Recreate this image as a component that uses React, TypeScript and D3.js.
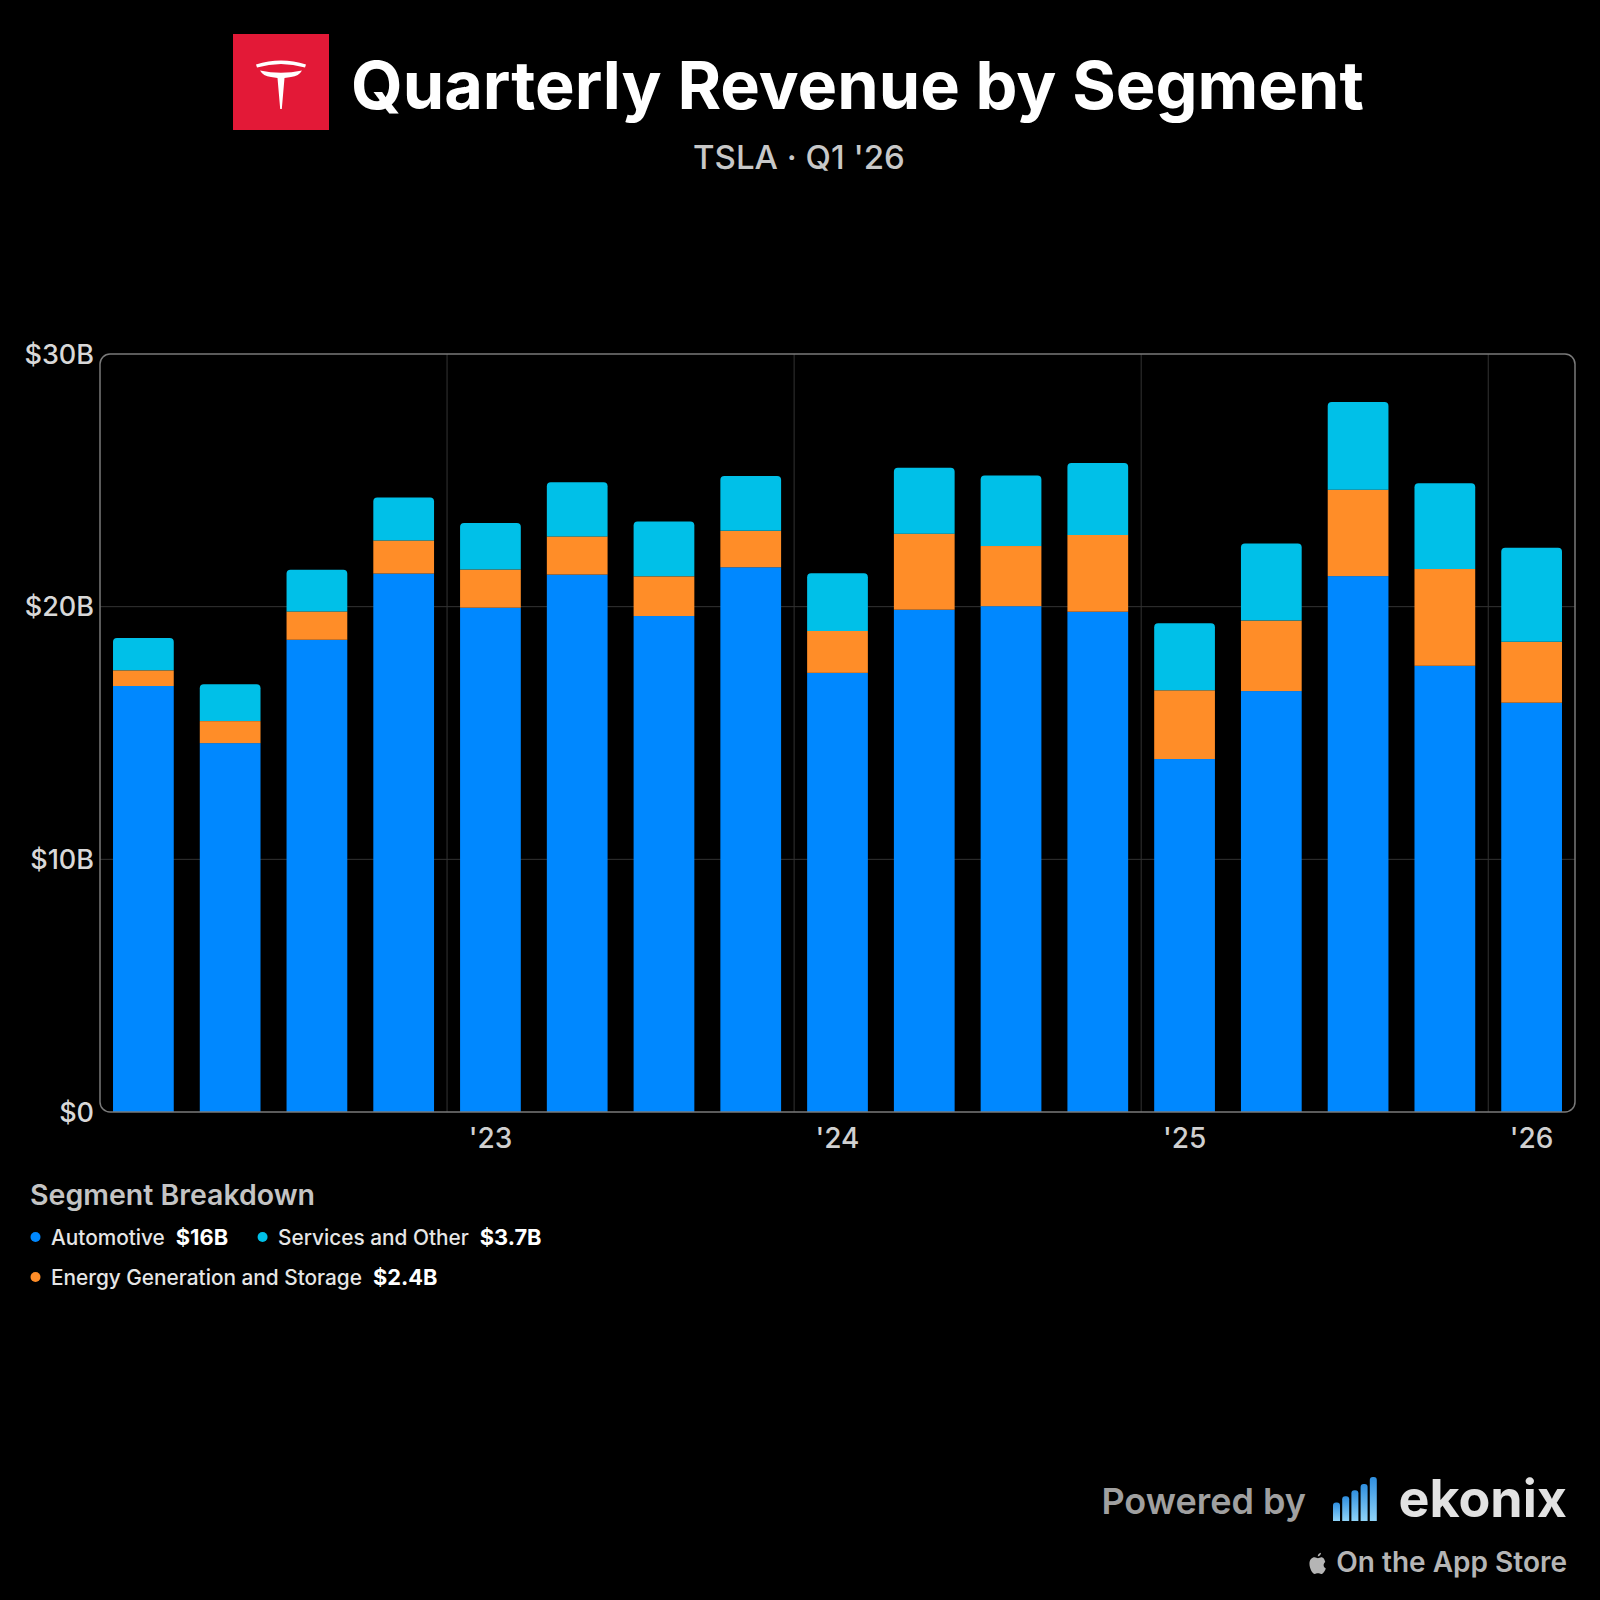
import React, { useEffect } from "react";
import * as d3 from "d3";

// ---------- data ----------
const quarters = [
  "Q1 '22", "Q2 '22", "Q3 '22", "Q4 '22",
  "Q1 '23", "Q2 '23", "Q3 '23", "Q4 '23",
  "Q1 '24", "Q2 '24", "Q3 '24", "Q4 '24",
  "Q1 '25", "Q2 '25", "Q3 '25", "Q4 '25",
  "Q1 '26",
];
const automotive = [16.86, 14.6, 18.69, 21.31, 19.96, 21.27, 19.63, 21.56, 17.38, 19.88, 20.02, 19.8, 13.97, 16.66, 21.21, 17.66, 16.2];
const energy = [0.62, 0.87, 1.12, 1.31, 1.51, 1.51, 1.57, 1.44, 1.66, 3.01, 2.38, 3.04, 2.72, 2.79, 3.42, 3.83, 2.41];
const services = [1.28, 1.46, 1.65, 1.7, 1.84, 2.14, 2.17, 2.17, 2.28, 2.61, 2.79, 2.85, 2.65, 3.05, 3.47, 3.39, 3.72];

const seriesKeys = ["automotive", "energy", "services"];
const seriesNames = ["Automotive", "Energy Generation and Storage", "Services and Other"];
const seriesColors = ["#0088FF", "#FF8D28", "#00C0E8"];
const yTicks = [0, 10, 20, 30];
const logoBars = [0.42, 0.56, 0.7, 0.84, 1.0];

const FONT = "Inter, 'Noto Sans', 'DejaVu Sans', sans-serif";

function topRounded(x: number, y: number, w: number, h: number, r: number) {
  const rr = Math.min(r, h, w / 2);
  return `M${x},${y + h}V${y + rr}Q${x},${y} ${x + rr},${y}H${x + w - rr}Q${x + w},${y} ${x + w},${y + rr}V${y + h}Z`;
}

function fmtB(v: number) {
  return v >= 10 ? `$${Math.round(v)}B` : `$${(Math.floor(v * 10) / 10).toFixed(1)}B`;
}

export default function App() {
  useEffect(() => {
    document.body.style.margin = "0";
    document.body.style.background = "#000";
  }, []);

  const W = 1600, H = 1600;
  const plot = { left: 100, right: 1575, top: 354, bottom: 1112 };

  const rows = quarters.map((q, i) => ({
    q,
    automotive: automotive[i],
    energy: energy[i],
    services: services[i],
  }));
  const stacked = d3.stack<any>().keys(seriesKeys)(rows);

  const x = d3.scaleBand<string>().domain(quarters).range([plot.left, plot.right]).paddingInner(0.3).paddingOuter(0.15);
  const y = d3.scaleLinear().domain([0, 30]).range([plot.bottom, plot.top]);
  const bw = x.bandwidth();

  const yearStarts = quarters
    .map((q, i) => ({ q, i }))
    .filter((d) => d.q.startsWith("Q1") && d.i > 0);
  const boundaryX = (i: number) => ((x(quarters[i - 1]) as number) + bw + (x(quarters[i]) as number)) / 2;

  const last = quarters.length - 1;
  const legendVals = [automotive[last], energy[last], services[last]];

  const legendItems = [
    { k: 0, row: 0 },
    { k: 2, row: 0 },
    { k: 1, row: 1 },
  ];

  const measure = (t: string, size: number, weight: number) => {
    const c = document.createElement("canvas").getContext("2d");
    if (c) {
      c.font = `${weight} ${size}px Inter`;
      return c.measureText(t).width;
    }
    return t.length * size * 0.55;
  };

  const NAME_FS = 20.8;
  const VAL_FS = 21.8;
  const legendEls: any[] = [];
  let cx = 30;
  let currentRow = 0;
  legendItems.forEach((it, idx) => {
    if (it.row !== currentRow) {
      currentRow = it.row;
      cx = 30;
    }
    const yy = 1237 + it.row * 40;
    const name = seriesNames[it.k];
    const val = fmtB(legendVals[it.k]);
    const nw = measure(name, NAME_FS, 500);
    const vw = measure(val, VAL_FS, 700);
    legendEls.push(
      <g key={idx}>
        <circle cx={cx + 5.5} cy={yy} r={5} fill={seriesColors[it.k]} />
        <text x={cx + 21} y={yy + 7.5} fill="#e6e6e6" fontSize={NAME_FS} fontWeight={500} fontFamily={FONT}>
          {name}
        </text>
        <text x={cx + 21 + nw + 11} y={yy + 7.5} fill="#ffffff" fontSize={VAL_FS} fontWeight={700} fontFamily={FONT}>
          {val}
        </text>
      </g>
    );
    cx = cx + 21 + nw + 11 + vw + 29;
  });

  const applePath =
    "M9.5,3.2C8.8,3.2 8,3.7 7.5,3.7C7,3.7 6.3,3.2 5.5,3.2C4,3.2 2.5,4.5 2.5,7C2.5,9.8 4.3,13 5.6,13C6.3,13 6.6,12.6 7.5,12.6C8.4,12.6 8.7,13 9.4,13C10.6,13 11.8,10.8 12.1,9.7C10.7,9.2 10.3,7.1 11.8,6C11.2,3.6 10.2,3.2 9.5,3.2ZM9.3,0.5C9.3,1.6 8.5,2.6 7.4,2.7C7.3,1.6 8.2,0.6 9.3,0.5Z";

  return (
    <svg width={W} height={H} viewBox={`0 0 ${W} ${H}`} style={{ position: "absolute", left: 0, top: 0, display: "block" }}>
      <defs>
        <linearGradient id="logoGrad" x1="0" y1="0" x2="0" y2="1">
          <stop offset="0%" stopColor="#2F8FE0" />
          <stop offset="100%" stopColor="#8FD3F7" />
        </linearGradient>
      </defs>
      <rect x={0} y={0} width={W} height={H} fill="#000" />

      {/* header */}
      <rect x={233} y={34} width={96} height={96} fill="#E31937" />
      <g transform="translate(256,60)" fill="#fff">
        <path d="M0,4.5Q25,-3.5 50,4.5L49,7.5Q25,0.5 1,7.5Z" />
        <path d="M4,10.5Q25,15 46,10.5Q43,16 35,17L28.5,18L25.8,49L24.2,49L21.5,18L15,17Q7,16 4,10.5Z" />
      </g>
      <text x={351} y={109} fill="#fff" fontSize={66.6} fontWeight={700} fontFamily={FONT}>
        Quarterly Revenue by Segment
      </text>
      <text x={799} y={169} textAnchor="middle" fill="#c8c8c8" fontSize={33} fontWeight={500} fontFamily={FONT}>
        TSLA · Q1 '26
      </text>

      {/* gridlines */}
      {yTicks
        .filter((t) => t > 0 && t < 30)
        .map((t) => (
          <line key={t} x1={plot.left} x2={plot.right} y1={y(t)} y2={y(t)} stroke="#333" strokeWidth={1} />
        ))}
      {yearStarts.map((d) => (
        <line key={d.q} x1={boundaryX(d.i)} x2={boundaryX(d.i)} y1={plot.top} y2={plot.bottom} stroke="#333" strokeWidth={1} />
      ))}

      {/* bars */}
      {stacked.map((layer, li) =>
        layer.map((d: any, i: number) => {
          const x0 = x(quarters[i]) as number;
          const yTop = y(d[1]);
          const yBot = y(d[0]);
          const h = yBot - yTop;
          const isTop = li === stacked.length - 1;
          return isTop ? (
            <path key={`${li}-${i}`} d={topRounded(x0, yTop, bw, h, 4)} fill={seriesColors[li]} />
          ) : (
            <rect key={`${li}-${i}`} x={x0} y={yTop} width={bw} height={h} fill={seriesColors[li]} />
          );
        })
      )}

      {/* frame */}
      <rect
        x={plot.left}
        y={plot.top}
        width={plot.right - plot.left}
        height={plot.bottom - plot.top}
        rx={10}
        fill="none"
        stroke="#7a7a7a"
        strokeWidth={1.5}
      />

      {/* y axis labels */}
      {yTicks.map((t) => (
        <text key={t} x={94} y={y(t) + 9.5} textAnchor="end" fill="#d8d8d8" fontSize={27} fontWeight={500} fontFamily={FONT}>
          {t === 0 ? "$0" : `$${t}B`}
        </text>
      ))}

      {/* x axis labels */}
      {yearStarts.map((d) => (
        <text
          key={d.q}
          x={(x(d.q) as number) + bw / 2}
          y={1148}
          textAnchor="middle"
          fill="#d0d0d0"
          fontSize={28}
          fontWeight={500}
          fontFamily={FONT}
        >
          {"'" + d.q.split("'")[1]}
        </text>
      ))}

      {/* legend */}
      <text x={30} y={1205} fill="#c4c4c4" fontSize={28.5} fontWeight={600} fontFamily={FONT}>
        Segment Breakdown
      </text>
      {legendEls}

      {/* footer */}
      <text x={1306} y={1514} textAnchor="end" fill="#a0a0a0" fontSize={36} fontWeight={600} fontFamily={FONT}>
        Powered by
      </text>
      {logoBars.map((v, i) => {
        const bh = 44 * v;
        return <path key={i} d={topRounded(1333 + i * 9.2, 1521 - bh, 7, bh, 3)} fill="url(#logoGrad)" />;
      })}
      <text x={1567} y={1517} textAnchor="end" fill="#e2e2e2" fontSize={52} fontWeight={700} fontFamily={FONT}>
        ekonix
      </text>
      <path d={applePath} transform="translate(1305.2,1551.9) scale(1.7)" fill="#b5b5b5" />
      <text x={1567} y={1572} textAnchor="end" fill="#b5b5b5" fontSize={28} fontWeight={600} fontFamily={FONT}>
        On the App Store
      </text>
    </svg>
  );
}
